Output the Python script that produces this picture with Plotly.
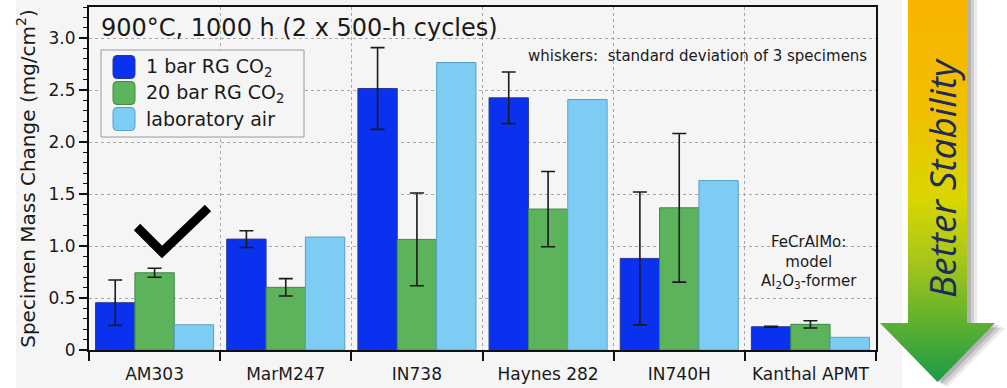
import plotly.graph_objects as go

# ---------------- data ----------------
categories = ["AM303", "MarM247", "IN738", "Haynes 282", "IN740H", "Kanthal APMT"]
rg1_bar = [0.455, 1.067, 2.516, 2.426, 0.881, 0.224]
rg1_bar_sd = [0.218, 0.081, 0.393, 0.248, 0.639, 0.005]
rg20_bar = [0.743, 0.603, 1.064, 1.356, 1.368, 0.247]
rg20_bar_sd = [0.043, 0.084, 0.446, 0.362, 0.715, 0.035]
lab_air = [0.243, 1.087, 2.766, 2.410, 1.630, 0.122]

series_names = ["1 bar RG CO<sub>2</sub>", "20 bar RG CO<sub>2</sub>", "laboratory air"]
y_tickvals = [0, 0.5, 1.0, 1.5, 2.0, 2.5, 3.0]
y_ticktext = ["0", "0.5", "1.0", "1.5", "2.0", "2.5", "3.0"]

W, H = 1007, 388
def px(x):
    return x / W
def py(y):
    return 1 - y / H

FONT = "DejaVu Sans"
colors = ["#0a31ee", "#5cb35c", "#7dccf4"]
edge = ["#26399a", "#3f8a47", "#5b9fc6"]

fig = go.Figure()
vals = [rg1_bar, rg20_bar, lab_air]
sds = [rg1_bar_sd, rg20_bar_sd, None]
for i in range(3):
    kw = {}
    if sds[i] is not None:
        kw["error_y"] = dict(type="data", array=sds[i], visible=True,
                             color="#1a1a1a", thickness=1.6, width=7)
    fig.add_trace(go.Bar(x=categories, y=vals[i], name=series_names[i],
                         marker=dict(color=colors[i], line=dict(color=edge[i], width=1)),
                         showlegend=False, **kw))

# ---------------- arrow (decoration) on auxiliary axes in pixel units ----------------
ax = [908, 967, 967, 995, 937.5, 880, 908, 908]
ay = [-5, -5, 323, 323, 382, 323, 323, -5]
for dx, dy, op in [(10, 5, 0.10), (7, 4, 0.15), (4, 2, 0.2)]:
    fig.add_trace(go.Scatter(x=[v + dx for v in ax], y=[v + dy for v in ay],
                             fill="toself", mode="lines", line=dict(width=0),
                             fillcolor=f"rgba(60,60,60,{op})", xaxis="x2", yaxis="y2",
                             hoverinfo="skip", showlegend=False))
fig.add_trace(go.Scatter(x=ax, y=ay, fill="toself", mode="lines", line=dict(width=0),
                         fillgradient=dict(type="vertical", start=0, stop=382,
                                           colorscale=[[0, "#f8b400"], [0.3, "#f0c000"],
                                                       [0.52, "#d9d700"], [0.68, "#a8c61a"],
                                                       [0.82, "#6ab42c"], [1, "#1b9a48"]]),
                         xaxis="x2", yaxis="y2", hoverinfo="skip", showlegend=False))

shapes = []
shapes.append(dict(type="rect", xref="paper", yref="paper", x0=px(16), x1=px(902), y0=0, y1=1,
                   fillcolor="#f5f5f5", line=dict(width=0), layer="below"))

# checkmark
shapes.append(dict(type="path", xref="paper", yref="paper",
                   path=f"M {px(137)},{py(227)} L {px(162)},{py(252)} L {px(208)},{py(208)}",
                   line=dict(color="black", width=9)))

# custom legend box
shapes.append(dict(type="rect", xref="paper", yref="paper", x0=px(101), x1=px(304),
                   y0=py(137), y1=py(50), fillcolor="#f5f5f5",
                   line=dict(color="#9a9a9a", width=1)))

def rrect(x0, y0, x1, y1, r):
    rx, ry = r / W, r / H
    X0, X1, Y0, Y1 = px(x0), px(x1), py(y0), py(y1)
    return (f"M {X0+rx},{Y0} L {X1-rx},{Y0} Q {X1},{Y0} {X1},{Y0-ry} "
            f"L {X1},{Y1+ry} Q {X1},{Y1} {X1-rx},{Y1} L {X0+rx},{Y1} "
            f"Q {X0},{Y1} {X0},{Y1+ry} L {X0},{Y0-ry} Q {X0},{Y0} {X0+rx},{Y0} Z")

leg_y = [67, 93, 119]
annotations = []
for i in range(3):
    shapes.append(dict(type="path", xref="paper", yref="paper",
                       path=rrect(113, leg_y[i] - 11.5, 135, leg_y[i] + 11.5, 4),
                       fillcolor=colors[i], line=dict(color=edge[i], width=1)))
    annotations.append(dict(xref="paper", yref="paper", x=px(144), y=py(leg_y[i]),
                            xanchor="left", yanchor="middle", showarrow=False,
                            text=series_names[i], font=dict(family=FONT, size=19, color="#1a1a1a")))

annotations += [
    dict(xref="paper", yref="paper", x=px(99), y=py(28), xanchor="left", yanchor="middle",
         showarrow=False, text="900°C, 1000 h (2 x 500-h cycles)",
         font=dict(family=FONT, size=24, color="#1a1a1a")),
    dict(xref="paper", yref="paper", x=px(869), y=py(56), xanchor="right", yanchor="middle",
         showarrow=False, text="whiskers:  standard deviation of 3 specimens",
         font=dict(family=FONT, size=15, color="#1a1a1a")),
    dict(xref="paper", yref="paper", x=px(809), y=py(262), xanchor="center", yanchor="middle",
         showarrow=False, text="FeCrAlMo:<br>model<br>Al<sub>2</sub>O<sub>3</sub>-former",
         font=dict(family=FONT, size=15, color="#1a1a1a")),
    dict(xref="x2", yref="y2", x=941, y=178, xanchor="center", yanchor="middle",
         showarrow=False, textangle=-90, text="<i>Better Stability</i>",
         font=dict(family="Open Sans", size=37, color="#1e2c5a")),
]

fig.update_layout(
    width=W, height=H, margin=dict(l=0, r=0, t=0, b=0, autoexpand=False),
    paper_bgcolor="white", plot_bgcolor="rgba(0,0,0,0)",
    barmode="group", bargap=0.1, bargroupgap=0,
    font=dict(family=FONT, color="#1a1a1a"),
    showlegend=False,
    xaxis=dict(domain=[px(89), px(876)], anchor="y", type="category", automargin=False,
               tickson="boundaries", ticks="outside", ticklen=9, tickwidth=1.5, tickcolor="#111",
               ticklabelstandoff=8,
               showgrid=True, gridcolor="#a8a8a8", griddash="dot", gridwidth=1,
               showline=True, linecolor="#111", linewidth=2, mirror=True,
               tickfont=dict(family=FONT, size=17, color="#1a1a1a")),
    yaxis=dict(domain=[py(350), py(7)], anchor="x", range=[0, 3.3], automargin=False,
               tickmode="array", tickvals=y_tickvals, ticktext=y_ticktext,
               ticks="outside", ticklen=8, tickwidth=1.5, tickcolor="#111",
               minor=dict(tickmode="linear", tick0=0, dtick=0.1, ticks="outside", ticklen=4,
                          tickwidth=1, tickcolor="#111", showgrid=False),
               showgrid=True, gridcolor="#a8a8a8", griddash="dot", gridwidth=1,
               zeroline=False, showline=True, linecolor="#111", linewidth=2, mirror=True,
               tickfont=dict(family=FONT, size=17, color="#1a1a1a"),
               title=dict(text="Specimen Mass Change (mg/cm<sup>2</sup>)", standoff=8,
                          font=dict(family=FONT, size=20, color="#1a1a1a"))),
    xaxis2=dict(domain=[px(870), 1], anchor="y2", range=[870, 1007], visible=False,
                fixedrange=True, automargin=False),
    yaxis2=dict(domain=[0, 1], anchor="x2", range=[388, 0], visible=False,
                fixedrange=True, automargin=False),
    shapes=shapes, annotations=annotations,
)

fig.write_html("out.html")
